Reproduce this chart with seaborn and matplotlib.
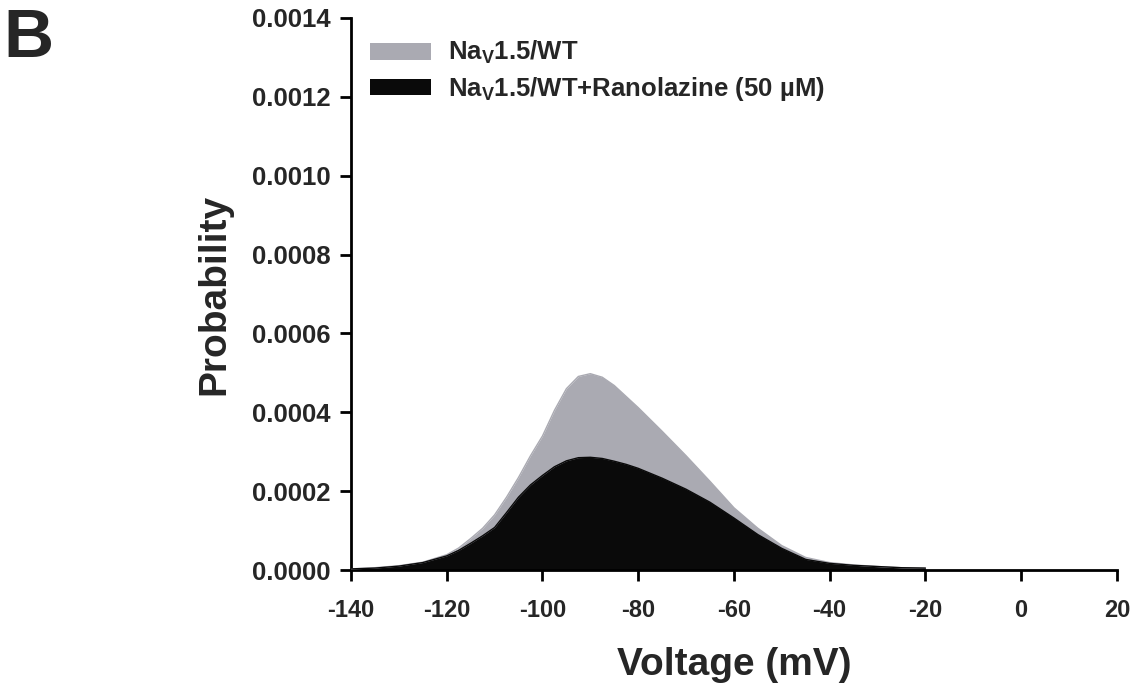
import numpy as np
import pandas as pd
import seaborn as sns
import matplotlib
matplotlib.use("Agg")
import matplotlib.pyplot as plt
from matplotlib.patches import Patch

voltage = [-140, -135, -130, -125, -120, -117.5, -115, -112.5, -110, -107.5, -105, -102.5, -100,
           -97.5, -95, -92.5, -90, -87.5, -85, -82.5, -80, -75, -70, -65, -60, -55, -50, -45,
           -40, -35, -30, -25, -20]
prob_wt = [3e-6, 6e-6, 1.1e-5, 2.0e-5, 3.9e-5, 5.6e-5, 8.0e-5, 0.000106, 0.000140, 0.000185,
           0.000235, 0.000290, 0.000340, 0.000405, 0.000460, 0.000491, 0.000498, 0.000489,
           0.000468, 0.000440, 0.000412, 0.000352, 0.000290, 0.000225, 0.000158, 0.000106,
           0.000062, 0.000032, 0.000019, 0.000013, 0.000009, 0.000006, 0.000005]
prob_ran = [3e-6, 5e-6, 1.0e-5, 1.9e-5, 3.6e-5, 5.0e-5, 6.8e-5, 8.7e-5, 0.000108, 0.000146,
            0.000185, 0.000216, 0.000240, 0.000262, 0.000277, 0.000285, 0.000286, 0.000283,
            0.000276, 0.000268, 0.000258, 0.000233, 0.000205, 0.000172, 0.000132, 0.000090,
            0.000055, 0.000027, 0.000017, 0.000012, 0.000009, 0.000006, 0.000005]
series_labels = [r"Na$_{\mathbf{V}}$1.5/WT", r"Na$_{\mathbf{V}}$1.5/WT+Ranolazine (50 µM)"]
series_colors = ["#aaaab2", "#0a0a0a"]
x_ticks = [-140, -120, -100, -80, -60, -40, -20, 0, 20]
y_ticks = [0.0, 0.0002, 0.0004, 0.0006, 0.0008, 0.0010, 0.0012, 0.0014]

df = pd.DataFrame({"Voltage": voltage * 2,
                   "Probability": prob_wt + prob_ran,
                   "Series": [series_labels[0]] * len(voltage) + [series_labels[1]] * len(voltage)})

sns.set_theme(style="ticks")
plt.rcParams["font.family"] = ["Liberation Sans", "DejaVu Sans"]
plt.rcParams["font.weight"] = "bold"
plt.rcParams["mathtext.fontset"] = "custom"
plt.rcParams["mathtext.rm"] = "Liberation Sans:bold"
plt.rcParams["mathtext.bf"] = "Liberation Sans:bold"
plt.rcParams["mathtext.it"] = "Liberation Sans:bold"

fig = plt.figure(figsize=(11.37, 6.91), dpi=100)
ax = fig.add_axes([0.3087, 0.175, 0.9823 - 0.3087, 0.974 - 0.175])

for lab, col in zip(series_labels, series_colors):
    sub = df[df["Series"] == lab]
    ax.fill_between(sub["Voltage"], 0, sub["Probability"], color=col, lw=0, zorder=2)
    sns.lineplot(data=sub, x="Voltage", y="Probability", color=col, lw=1, ax=ax, zorder=3,
                 legend=False)

ax.set_xlim(-140, 20)
ax.set_ylim(0, 0.0014)
ax.set_xticks(x_ticks)
ax.set_xticklabels([str(t) for t in x_ticks])
ax.set_yticks(y_ticks)
ax.set_yticklabels([f"{t:.4f}" for t in y_ticks])
for s in ["top", "right"]:
    ax.spines[s].set_visible(False)
for s in ["left", "bottom"]:
    ax.spines[s].set_linewidth(2)
    ax.spines[s].set_color("black")
ax.tick_params(axis="both", direction="out", length=8, width=2, color="black")
ax.tick_params(axis="y", labelsize=18.5, pad=7)
ax.tick_params(axis="x", labelsize=17, pad=13)
for lbl in ax.get_xticklabels() + ax.get_yticklabels():
    lbl.set_fontweight("bold")

ax.set_xlabel("Voltage (mV)", fontsize=28, fontweight="bold", labelpad=18)
ax.set_ylabel("Probability", fontsize=28, fontweight="bold", labelpad=14)

handles = [Patch(facecolor=c, edgecolor="none") for c in series_colors]
leg = ax.legend(handles, series_labels, loc="upper left", bbox_to_anchor=(0.012, 0.98),
                frameon=False, fontsize=18.5, handlelength=2.35, handleheight=0.62,
                handletextpad=0.65, labelspacing=0.33, borderaxespad=0)
for t in leg.get_texts():
    t.set_fontweight("bold")

fig.text(0.003, 0.99, "B", fontsize=50, fontweight="bold", va="top", ha="left")

fig.savefig("out.png", dpi=100, facecolor="white")
